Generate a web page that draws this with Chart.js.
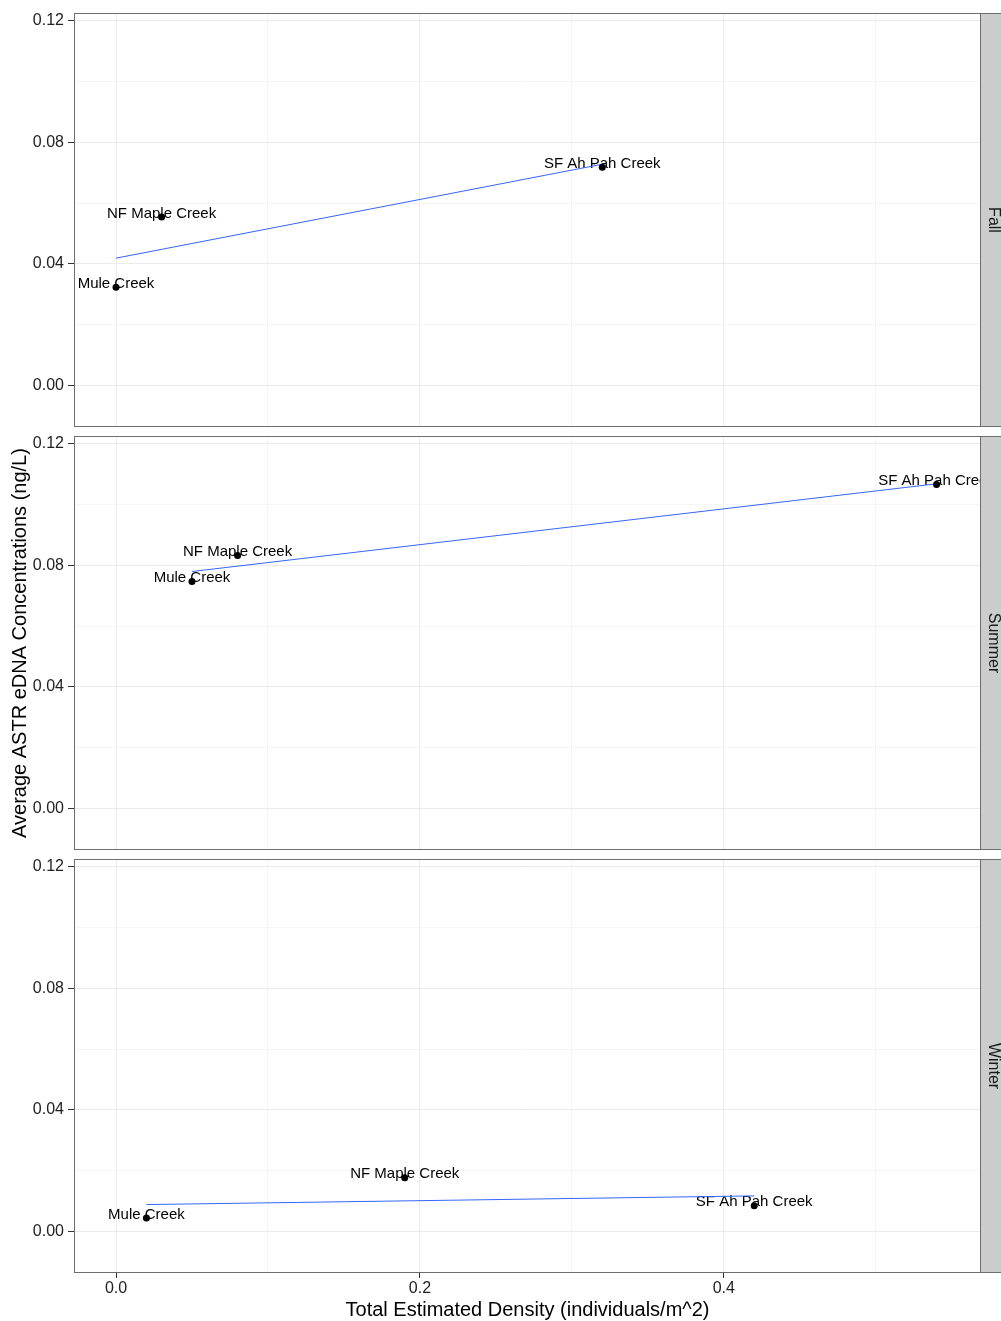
<!DOCTYPE html>
<html>
<head>
<meta charset="utf-8">
<title>ASTR eDNA vs density</title>
<script src="https://cdn.jsdelivr.net/npm/chart.js@4.4.1/dist/chart.umd.min.js"></script>
<style>
  html, body { margin: 0; padding: 0; background: #fff; }
  #wrap { position: relative; width: 1001px; height: 1321px; overflow: hidden; background: #fff; }
  #wrap canvas { position: absolute; left: 0; }
</style>
</head>
<body>
<div id="wrap">
  <canvas id="panel0"></canvas>
  <canvas id="panel1"></canvas>
  <canvas id="panel2"></canvas>
</div>
<script>
"use strict";

/*-- data --*/
const seasons = ['Fall', 'Summer', 'Winter'];
const sites = ['Mule Creek', 'NF Maple Creek', 'SF Ah Pah Creek'];

const fallDensity = [0.000, 0.030, 0.320];
const fallConc = [0.0323, 0.0554, 0.0718];
const summerDensity = [0.050, 0.080, 0.540];
const summerConc = [0.0747, 0.0832, 0.1066];
const winterDensity = [0.020, 0.190, 0.420];
const winterConc = [0.0045, 0.0177, 0.0085];

const xMajor = [0, 0.2, 0.4];
const xMinor = [0.1, 0.3, 0.5];
const xLabels = ['0.0', '0.2', '0.4'];
const yMajor = [0, 0.04, 0.08, 0.12];
const yMinor = [0.02, 0.06, 0.10];
const yLabels = ['0.00', '0.04', '0.08', '0.12'];

const densityBySeason = [fallDensity, summerDensity, winterDensity];
const concBySeason = [fallConc, summerConc, winterConc];

/*-- layout --*/
const FONT = '"Liberation Sans", Arial, Helvetica, sans-serif';
const PANEL_TOPS = [14, 437, 860];
const PANEL_H = 412;
const PAD_BOTTOM = 24;
const X_AXIS_H = 50;

Chart.defaults.font.family = FONT;
Chart.defaults.animation = false;

function isMajor(list, v) {
  return list.some(m => Math.abs(m - v) < 1e-9);
}

function labelFor(list, labels, v) {
  for (let i = 0; i < list.length; i++) {
    if (Math.abs(list[i] - v) < 1e-9) return labels[i];
  }
  return '';
}

// least squares fit over the facet's points, drawn between min and max x
function fitLine(xs, ys) {
  const n = xs.length;
  const mx = xs.reduce((a, b) => a + b, 0) / n;
  const my = ys.reduce((a, b) => a + b, 0) / n;
  let sxy = 0, sxx = 0;
  for (let i = 0; i < n; i++) {
    sxy += (xs[i] - mx) * (ys[i] - my);
    sxx += (xs[i] - mx) * (xs[i] - mx);
  }
  const slope = sxy / sxx;
  const x0 = Math.min(...xs), x1 = Math.max(...xs);
  return [
    { x: x0, y: my + slope * (x0 - mx) },
    { x: x1, y: my + slope * (x1 - mx) }
  ];
}

/*-- site names next to the points --*/
const siteLabels = {
  id: 'siteLabels',
  beforeDatasetsDraw(chart) {
    const { ctx, chartArea: a, scales } = chart;
    const pts = chart.data.datasets[0].data;
    ctx.save();
    ctx.beginPath();
    ctx.rect(a.left, a.top, a.right - a.left, a.bottom - a.top);
    ctx.clip();
    ctx.font = '15px ' + FONT;
    ctx.fillStyle = '#000';
    ctx.textAlign = 'center';
    ctx.textBaseline = 'middle';
    pts.forEach((p, i) => {
      ctx.fillText(sites[i], scales.x.getPixelForValue(p.x), scales.y.getPixelForValue(p.y) - 3.5);
    });
    ctx.restore();
  }
};

/*-- panel border and facet strip --*/
const panelFrame = {
  id: 'panelFrame',
  afterDraw(chart, args, opts) {
    const { ctx, chartArea: a, width } = chart;
    ctx.save();
    ctx.fillStyle = '#cccccc';
    ctx.fillRect(a.right + 1, a.top, width - a.right, a.bottom - a.top);
    ctx.strokeStyle = '#6e6e6e';
    ctx.lineWidth = 1;
    ctx.strokeRect(a.left - 0.5, a.top - 0.5, a.right - a.left + 1, a.bottom - a.top + 1);
    ctx.strokeRect(a.right + 0.5, a.top - 0.5, width, a.bottom - a.top + 1);
    ctx.translate(989, (a.top + a.bottom) / 2);
    ctx.rotate(Math.PI / 2);
    ctx.font = '16px ' + FONT;
    ctx.fillStyle = '#1a1a1a';
    ctx.textAlign = 'center';
    ctx.textBaseline = 'alphabetic';
    ctx.fillText(opts.label, 0, 0);
    ctx.restore();
  }
};

function makePanel(k) {
  const last = k === seasons.length - 1;
  const canvas = document.getElementById('panel' + k);
  const top = PANEL_TOPS[k] - 14;
  const h = last ? 1322 - top : PANEL_H + 14 + PAD_BOTTOM;
  canvas.width = 1001;
  canvas.height = h;
  canvas.style.top = top + 'px';
  canvas.style.width = '1001px';
  canvas.style.height = h + 'px';

  const xs = densityBySeason[k];
  const ys = concBySeason[k];
  const points = xs.map((x, i) => ({ x: x, y: ys[i] }));

  return new Chart(canvas, {
    type: 'scatter',
    data: {
      datasets: [{
        data: points,
        backgroundColor: '#000',
        borderWidth: 0,
        pointRadius: 3.5,
        order: 0
      }, {
        data: fitLine(xs, ys),
        showLine: true,
        borderColor: '#3366ff',
        borderWidth: 1,
        pointRadius: 0,
        order: 1
      }]
    },
    options: {
      responsive: false,
      events: [],
      layout: { padding: { top: 14, bottom: last ? 0 : PAD_BOTTOM, left: 0, right: 21 } },
      plugins: {
        legend: { display: false },
        tooltip: { enabled: false },
        panelFrame: { label: seasons[k] }
      },
      scales: {
        x: {
          type: 'linear',
          min: -0.027,
          max: 0.5686,
          afterBuildTicks: s => { s.ticks = xMajor.concat(xMinor).sort((a, b) => a - b).map(v => ({ value: v })); },
          afterFit: s => { s.height = last ? X_AXIS_H : 0; },
          border: { display: false },
          grid: {
            color: c => isMajor(xMajor, c.tick.value) ? '#ebebeb' : '#f5f5f5',
            drawTicks: last,
            tickLength: 6,
            tickColor: c => isMajor(xMajor, c.tick.value) ? '#333' : 'rgba(0,0,0,0)'
          },
          ticks: {
            display: last,
            autoSkip: false,
            maxRotation: 0,
            padding: 1,
            color: '#222',
            font: { size: 16 },
            callback: v => labelFor(xMajor, xLabels, v)
          },
          title: {
            display: last,
            text: 'Total Estimated Density (individuals/m^2)',
            color: '#000',
            font: { size: 20 },
            padding: { top: 0, bottom: 0 }
          }
        },
        y: {
          type: 'linear',
          min: -0.0133,
          max: 0.1222,
          afterBuildTicks: s => { s.ticks = yMajor.concat(yMinor).sort((a, b) => a - b).map(v => ({ value: v })); },
          afterFit: s => { s.width = 75; },
          border: { display: false },
          grid: {
            color: c => isMajor(yMajor, c.tick.value) ? '#ebebeb' : '#f5f5f5',
            tickLength: 7,
            tickColor: c => isMajor(yMajor, c.tick.value) ? '#333' : 'rgba(0,0,0,0)'
          },
          ticks: {
            autoSkip: false,
            padding: 4,
            color: '#222',
            font: { size: 16 },
            callback: v => labelFor(yMajor, yLabels, v)
          },
          title: {
            display: k === 1,
            text: 'Average ASTR eDNA Concentrations (ng/L)',
            color: '#000',
            font: { size: 20 },
            padding: { top: 8, bottom: 0 }
          }
        }
      }
    },
    plugins: [siteLabels, panelFrame]
  });
}

seasons.forEach((s, k) => makePanel(k));
</script>
</body>
</html>
